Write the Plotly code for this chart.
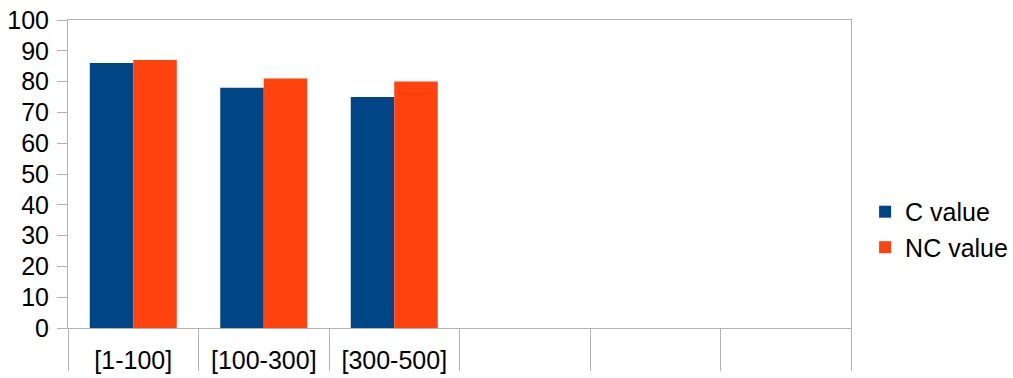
import plotly.graph_objects as go

categories = ["[1-100]", "[100-300]", "[300-500]"]
c_values = [86, 78, 75]
nc_values = [87, 81, 80]
n_slots = 6  # the category axis reserves six slots; only the first three hold data

positions = list(range(len(categories)))
grey = "#b3b3b3"
font = dict(family="Liberation Sans, Arial, sans-serif", size=25, color="#000000")

fig = go.Figure()
fig.add_trace(go.Bar(x=positions, y=c_values, name="C value",
                     marker=dict(color="#004586", line=dict(width=0))))
fig.add_trace(go.Bar(x=positions, y=nc_values, name="NC value",
                     marker=dict(color="#ff420e", line=dict(width=0))))

fig.update_layout(
    width=1013, height=378,
    margin=dict(l=68, r=162, t=20, b=50, autoexpand=False),
    paper_bgcolor="white", plot_bgcolor="white",
    barmode="group", bargap=1/3, bargroupgap=0,
    font=font,
    showlegend=True,
    legend=dict(x=1.018, xanchor="left", y=0.32, yanchor="middle",
                font=dict(size=25), itemwidth=30, tracegroupgap=0),
)

fig.update_xaxes(
    range=[-0.5, n_slots - 0.5], automargin=False,
    tickmode="array", tickvals=positions, ticktext=categories,
    ticks="", showgrid=False, zeroline=False,
    showline=True, linecolor=grey, linewidth=1, mirror=True,
    tickfont=font, ticklabelstandoff=10,
    minor=dict(tickmode="array",
               tickvals=[i - 0.5 for i in range(n_slots + 1)],
               ticks="outside", ticklen=42, tickcolor=grey, tickwidth=1,
               showgrid=False),
)
fig.update_yaxes(
    range=[0, 100], dtick=10, tick0=0, automargin=False,
    ticks="outside", ticklen=10, tickcolor=grey, tickwidth=1,
    showgrid=False, zeroline=False,
    showline=True, linecolor=grey, linewidth=1, mirror=True,
    tickfont=font, ticklabelstandoff=3,
)

fig.write_html("out.html")
